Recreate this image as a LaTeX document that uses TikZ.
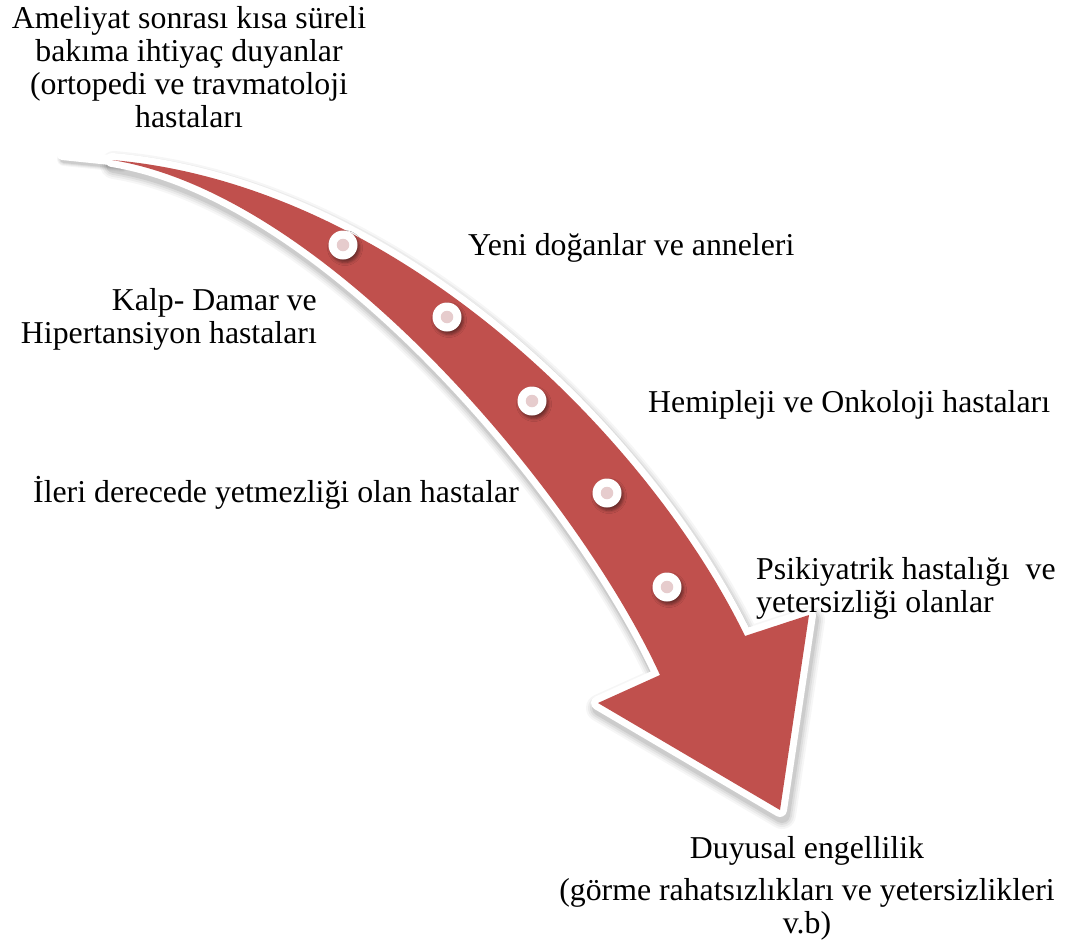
\documentclass[tikz,border=0pt]{standalone}
\usepackage{fontspec}
\setmainfont{Liberation Serif}
\usetikzlibrary{shadows.blur}
\definecolor{arrowred}{HTML}{C0504D}
\definecolor{dotpink}{HTML}{E6CCCD}
\def\arrowpath{(112,160) .. controls (400,185) and (650,440) .. (745,636) -- (809,615) -- (780,810) -- (598,703) -- (660,675) .. controls (580,500) and (330,195) .. (112,160) -- cycle}
\def\tailpath{(62,155) -- (120,161)}
\tikzset{
  lbl/.style={inner sep=0pt, font=\fontsize{31.8}{33}\selectfont, text=black},
  dotring/.style={circle, fill=white, minimum size=29pt, inner sep=0pt,
    blur shadow={shadow xshift=2pt, shadow yshift=-3pt, shadow blur radius=3pt, shadow opacity=45}},
  dotcore/.style={circle, fill=dotpink, minimum size=12.5pt, inner sep=0pt},
}
\begin{document}
\begin{tikzpicture}[x=1pt,y=-1pt]
\useasboundingbox (0,0) rectangle (1073,942);
% shadow of the arrow
\foreach \w/\o in {28/0.035,24/0.045,20/0.06,16/0.08} {
  \path[shift={(2,5)}, draw=black, line width=\w, line join=round, draw opacity=\o, fill=black, fill opacity=\o] \arrowpath;
  \path[shift={(2,4)}, draw=black, line width=\w/2, line cap=round, draw opacity=\o] \tailpath;
}
% white border
\draw[white, line width=10, line cap=round] \tailpath;
\draw[white, line width=14, line join=round] \arrowpath;
% red body
\fill[arrowred] \arrowpath;
% dots
\foreach \n/\p in {1/{(343,245)},2/{(447,317)},3/{(532,401)},4/{(607,493)},5/{(667,587)}} {
  \node[dotring] (c\n) at \p {};
  \node[dotcore] (d\n) at (c\n) {};
}
% labels (base anchor of a multi-line node = last line's baseline)
\node[lbl, align=center, anchor=base] (t1) at (189,127) {Ameliyat sonrası kısa süreli\\bakıma ihtiyaç duyanlar\\(ortopedi ve travmatoloji\\hastaları};
\node[lbl, anchor=base west] (t2) at (468,255) {Yeni doğanlar ve anneleri};
\node[lbl, align=right, anchor=base east] (t3) at (317,343) {Kalp- Damar ve\\Hipertansiyon hastaları};
\node[lbl, anchor=base west] (t4) at (648,412) {Hemipleji ve Onkoloji hastaları};
\node[lbl, anchor=base west] (t5) at (33,502) {İleri derecede yetmezliği olan hastalar};
\node[lbl, align=left, anchor=base west] (t6) at (756,612) {Psikiyatrik hastalığı~ ve\\yetersizliği olanlar};
\node[lbl, anchor=base] (t7) at (807,858) {Duyusal engellilik};
\node[lbl, align=center, anchor=base] (t8) at (807,933) {(görme rahatsızlıkları ve yetersizlikleri\\v.b)};
\end{tikzpicture}
\end{document}
